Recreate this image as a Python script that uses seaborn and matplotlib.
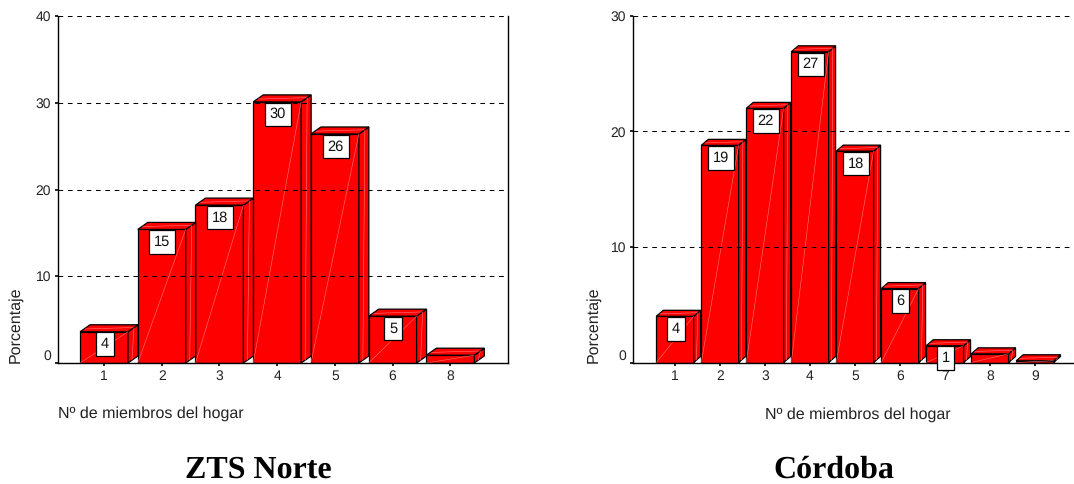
import matplotlib
matplotlib.use("Agg")
import matplotlib.pyplot as plt
from matplotlib.patches import Polygon
import pandas as pd
import seaborn as sns

# Nº de miembros del hogar / porcentaje
norte_cats = ["1", "2", "3", "4", "5", "6", "8"]
norte_vals = [3.6, 15.4, 18.2, 30.1, 26.4, 5.4, 0.9]
norte_yticks = [0, 10, 20, 30, 40]

cordoba_cats = ["1", "2", "3", "4", "5", "6", "7", "8", "9"]
cordoba_vals = [4.0, 18.8, 22.0, 26.9, 18.3, 6.4, 1.45, 0.75, 0.15]
cordoba_yticks = [0, 10, 20, 30]

W, H = 1074, 484
DARK = "#000000"
SHEEN = "#ff7a7a"

sns.set_theme(style="white")
plt.rcParams["font.family"] = ["Liberation Sans", "DejaVu Sans"]
plt.rcParams["text.hinting"] = "no_hinting"


def draw_panel(ax, cats, vals, yticks, xlim, depth_px, label_off):
    df = pd.DataFrame({"miembros": cats, "pct": vals})
    sns.barplot(data=df, x="miembros", y="pct", color="#ff0000", saturation=1,
                width=0.83, edgecolor=DARK, linewidth=0.9, ax=ax)
    ax.set_xlim(*xlim)
    ax.set_ylim(yticks[0], yticks[-1])

    # pixel depth of the fake 3D box, in data units
    bbox = ax.get_window_extent()
    dx = depth_px[0] * (xlim[1] - xlim[0]) / bbox.width
    dy = depth_px[1] * (yticks[-1] - yticks[0]) / bbox.height

    for bar, v in zip(ax.containers[0], vals):
        x0, x1 = bar.get_x(), bar.get_x() + bar.get_width()
        side = [(x1, 0), (x1 + dx, dy), (x1 + dx, v + dy), (x1, v)]
        top = [(x0, v), (x0 + dx, v + dy), (x1 + dx, v + dy), (x1, v)]
        for pts in (side, top):
            ax.add_patch(Polygon(pts, closed=True, facecolor="#ff0000", edgecolor=DARK,
                                 linewidth=0.9, zorder=1))
        # faint sheen lines on the faces
        ax.plot([x0, x1], [0, v], color=SHEEN, lw=0.4, zorder=1.5)
        ax.plot([x1 + dx * 0.4, x1 + dx * 0.6], [dy * 0.4, v + dy * 0.6],
                color=SHEEN, lw=0.4, zorder=1.5)
        ax.plot([x0 + dx * 0.5, x1 + dx * 0.5], [v + dy * 0.4, v + dy * 0.6],
                color=SHEEN, lw=0.4, zorder=1.5)

        if v >= 1:
            ax.annotate(f"{v:.0f}", xy=(bar.get_x() + bar.get_width() / 2, v),
                        xytext=(label_off, -9), textcoords="offset points",
                        ha="center", va="center", fontsize=10.5, color="#111111", zorder=5,
                        bbox=dict(boxstyle="square,pad=0.33", fc="white", ec=DARK, lw=0.9))

    ax.set_xlabel("")
    ax.set_ylabel("")
    ax.set_yticks(yticks)
    ax.set_axisbelow(False)
    ax.yaxis.grid(True, color=DARK, linewidth=0.75, linestyle=(0, (4.5, 4.5)))
    ax.xaxis.grid(False)
    ax.tick_params(axis="both", length=2.5, width=1.2, color=DARK, labelsize=10,
                   labelcolor="#222222", bottom=True, left=True, pad=2.5)
    ax.get_yticklabels()[0].set_verticalalignment("bottom")
    sns.despine(ax=ax, top=True, right=True)
    for name in ("left", "bottom"):
        ax.spines[name].set_color(DARK)
        ax.spines[name].set_linewidth(1.0)


fig = plt.figure(figsize=(W / 100, H / 100), dpi=100)
ax1 = fig.add_axes([58 / W, (H - 363) / H, 449.5 / W, 347 / H])
ax2 = fig.add_axes([633 / W, (H - 362.5) / H, 441 / W, 346.5 / H])

draw_panel(ax1, norte_cats, norte_vals, norte_yticks, (-0.797, 6.99), (10, 7), 0.5)
draw_panel(ax2, cordoba_cats, cordoba_vals, cordoba_yticks, (-0.933, 8.87), (7, 6), 0.5)

# right border only on the left chart
ax1.spines["right"].set_visible(True)
ax1.spines["right"].set_color(DARK)
ax1.spines["right"].set_linewidth(1.0)

for x, label_x, title, title_x, xl_y in [
    (15.5, 58, "ZTS Norte", 258, 414),
    (593, 765, "Córdoba", 834, 415),
]:
    fig.text(x / W, 1 - 363 / H, "Porcentaje", rotation=90, ha="center", va="bottom",
             fontsize=11.5, color="#222222")
    fig.text(label_x / W, 1 - xl_y / H, "Nº de miembros del hogar", ha="left", va="center",
             fontsize=11.5, color="#222222")
    fig.text(title_x / W, 1 - 477.5 / H, title, ha="center", va="baseline", fontsize=23,
             fontweight="bold", family=["Liberation Serif"], color="black")

fig.savefig("out.png", dpi=100)
